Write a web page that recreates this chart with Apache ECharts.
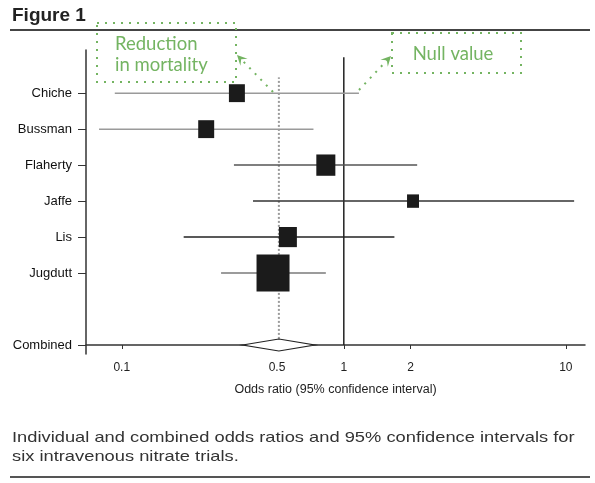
<!DOCTYPE html>
<html>
<head>
<meta charset="utf-8">
<script src="https://cdn.jsdelivr.net/npm/echarts@6/dist/echarts.min.js"></script>
<style>html,body{margin:0;padding:0;background:#fff}#c{width:595px;height:483px}</style>
</head>
<body>
<div id="c"></div>
<script>
// ---- data ----
const rowLabels = ['Combined', '', 'Jugdutt', 'Lis', 'Jaffe', 'Flaherty', 'Bussman', 'Chiche'];
const studies = ['Chiche', 'Bussman', 'Flaherty', 'Jaffe', 'Lis', 'Jugdutt'];
const oddsRatio = [0.33, 0.24, 0.83, 2.05, 0.56, 0.48];
const ciLow = [0.093, 0.079, 0.32, 0.39, 0.19, 0.28];
const ciHigh = [1.17, 0.73, 2.14, 10.9, 1.69, 0.83];
const weights = [10.5, 10.5, 14.9, 5.9, 13.3, 44.8];
const combinedOR = 0.51;
const combinedLow = 0.35;
const combinedHigh = 0.74;
const nullValue = 1;
const xTicks = [0.1, 0.5, 1, 2, 10];

// ---- styles ----
const ciColors = ['#9a9a9a', '#9a9a9a', '#555555', '#333333', '#222222', '#7a7a7a'];
const green = '#74b462';
const FONT = '"Liberation Sans", Arial, sans-serif';
const GFONT = 'Lato, "Open Sans", sans-serif';

const studyData = studies.map((s, i) => [ciLow[i], ciHigh[i], oddsRatio[i], rowLabels.indexOf(s), weights[i]]);

function arrow(x1, y1, x2, y2) {
  const ang = Math.atan2(y2 - y1, x2 - x1);
  const L = 10, W = 5;
  const bx = x2 - L * Math.cos(ang), by = y2 - L * Math.sin(ang);
  const nx = -Math.sin(ang), ny = Math.cos(ang);
  const mx = x2 - L * 0.6 * Math.cos(ang), my = y2 - L * 0.6 * Math.sin(ang);
  return [
    { type: 'line', shape: { x1: x1, y1: y1, x2: mx, y2: my },
      style: { stroke: green, lineWidth: 2, lineDash: [2, 6] } },
    { type: 'polygon', shape: { points: [[x2, y2], [bx + nx * W, by + ny * W], [mx, my], [bx - nx * W, by - ny * W]] },
      style: { fill: green } }
  ];
}

const chart = echarts.init(document.getElementById('c'), null, { renderer: 'canvas' });
chart.setOption({
  animation: false,
  backgroundColor: '#fff',
  grid: { left: 86, right: 10, top: 50, bottom: 129 },
  xAxis: {
    type: 'log', logBase: 10, min: 0.069, max: 12.2,
    name: 'Odds ratio (95% confidence interval)', nameLocation: 'middle', nameGap: 29,
    nameTextStyle: { fontFamily: FONT, fontSize: 12.5, color: '#222' },
    axisLine: { lineStyle: { color: '#333', width: 1.5 } },
    axisTick: { show: true, length: 4, customValues: xTicks, lineStyle: { color: '#333' } },
    axisLabel: { customValues: xTicks, margin: 8, fontFamily: FONT, fontSize: 12, color: '#222',
      formatter: v => String(+v.toPrecision(3)) },
    splitLine: { show: false }, minorTick: { show: false }
  },
  yAxis: {
    type: 'value', min: -0.25, max: 8.2,
    axisLine: { show: true, lineStyle: { color: '#333', width: 1.5 } },
    axisTick: { show: true, length: 8, customValues: [0, 2, 3, 4, 5, 6, 7], lineStyle: { color: '#333' } },
    axisLabel: { customValues: [0, 2, 3, 4, 5, 6, 7], margin: 14, fontFamily: FONT, fontSize: 13, color: '#111',
      formatter: v => rowLabels[Math.round(v)] },
    splitLine: { show: false }
  },
  series: [
    {
      type: 'custom', name: 'refs', silent: true, z: 1,
      data: [[nullValue, 0, 8.0], [combinedOR, 0.17, 7.44]],
      encode: { x: 0, y: [1, 2] },
      renderItem: function (params, api) {
        const a = api.coord([api.value(0), api.value(1)]);
        const b = api.coord([api.value(0), api.value(2)]);
        const dotted = params.dataIndex === 1;
        return { type: 'line', shape: { x1: a[0], y1: a[1], x2: b[0], y2: b[1] },
          style: dotted ? { stroke: '#9a9a9a', lineWidth: 2, lineDash: [2, 2] } : { stroke: '#222', lineWidth: 1.5 } };
      }
    },
    {
      type: 'custom', name: 'studies', z: 3,
      data: studyData,
      encode: { x: [0, 1, 2], y: 3 },
      renderItem: function (params, api) {
        const y = api.value(3);
        const p1 = api.coord([api.value(0), y]);
        const p2 = api.coord([api.value(1), y]);
        const pc = api.coord([api.value(2), y]);
        const w = Math.sqrt(api.value(4)) * 4.93;
        const h = w * 1.12;
        return { type: 'group', children: [
          { type: 'line', shape: { x1: p1[0], y1: p1[1], x2: p2[0], y2: p2[1] },
            style: { stroke: ciColors[params.dataIndex], lineWidth: 1.5 } },
          { type: 'rect', shape: { x: pc[0] - w / 2, y: pc[1] - h / 2, width: w, height: h },
            style: { fill: '#1b1b1b' } }
        ] };
      }
    },
    {
      type: 'custom', name: 'combined', z: 3,
      data: [[combinedLow, combinedHigh, combinedOR, rowLabels.indexOf('Combined')]],
      encode: { x: [0, 1, 2], y: 3 },
      renderItem: function (params, api) {
        const y = api.value(3);
        const l = api.coord([api.value(0), y]);
        const r = api.coord([api.value(1), y]);
        const c = api.coord([api.value(2), y]);
        const hh = 6;
        return { type: 'polygon', shape: { points: [[l[0], l[1]], [c[0], c[1] - hh], [r[0], r[1]], [c[0], c[1] + hh]] },
          style: { fill: '#fff', stroke: '#222', lineWidth: 1.2 } };
      }
    }
  ],
  graphic: [
    { type: 'text', x: 12, y: 16, style: { text: 'Figure 1', font: 'bold 19px ' + FONT, fill: '#222', verticalAlign: 'middle' } },
    { type: 'line', shape: { x1: 10, y1: 30, x2: 590, y2: 30 }, style: { stroke: '#444', lineWidth: 2 } },
    { type: 'text', x: 12, y: 428, scaleX: 1.22,
      style: { text: 'Individual and combined odds ratios and 95% confidence intervals for\nsix intravenous nitrate trials.',
        font: '15px ' + FONT, lineHeight: 19, fill: '#333' } },
    { type: 'line', shape: { x1: 10, y1: 477, x2: 590, y2: 477 }, style: { stroke: '#555', lineWidth: 2 } },
    { type: 'rect', shape: { x: 97, y: 23, width: 139, height: 59 }, style: { fill: null, stroke: green, lineWidth: 2, lineDash: [2, 6] } },
    { type: 'text', x: 115, y: 44, style: { text: 'Reduction', font: '18.5px ' + GFONT, fill: green, verticalAlign: 'middle' } },
    { type: 'text', x: 115, y: 65, style: { text: 'in mortality', font: '18.5px ' + GFONT, fill: green, verticalAlign: 'middle' } },
    { type: 'rect', shape: { x: 392, y: 33, width: 129, height: 40 }, style: { fill: null, stroke: green, lineWidth: 2, lineDash: [2, 6] } },
    { type: 'text', x: 453, y: 54, style: { text: 'Null value', font: '18.5px ' + GFONT, fill: green, align: 'center', verticalAlign: 'middle' } },
    ...arrow(273, 92, 237, 55),
    ...arrow(359, 90, 391, 56)
  ]
});
</script>
</body>
</html>
